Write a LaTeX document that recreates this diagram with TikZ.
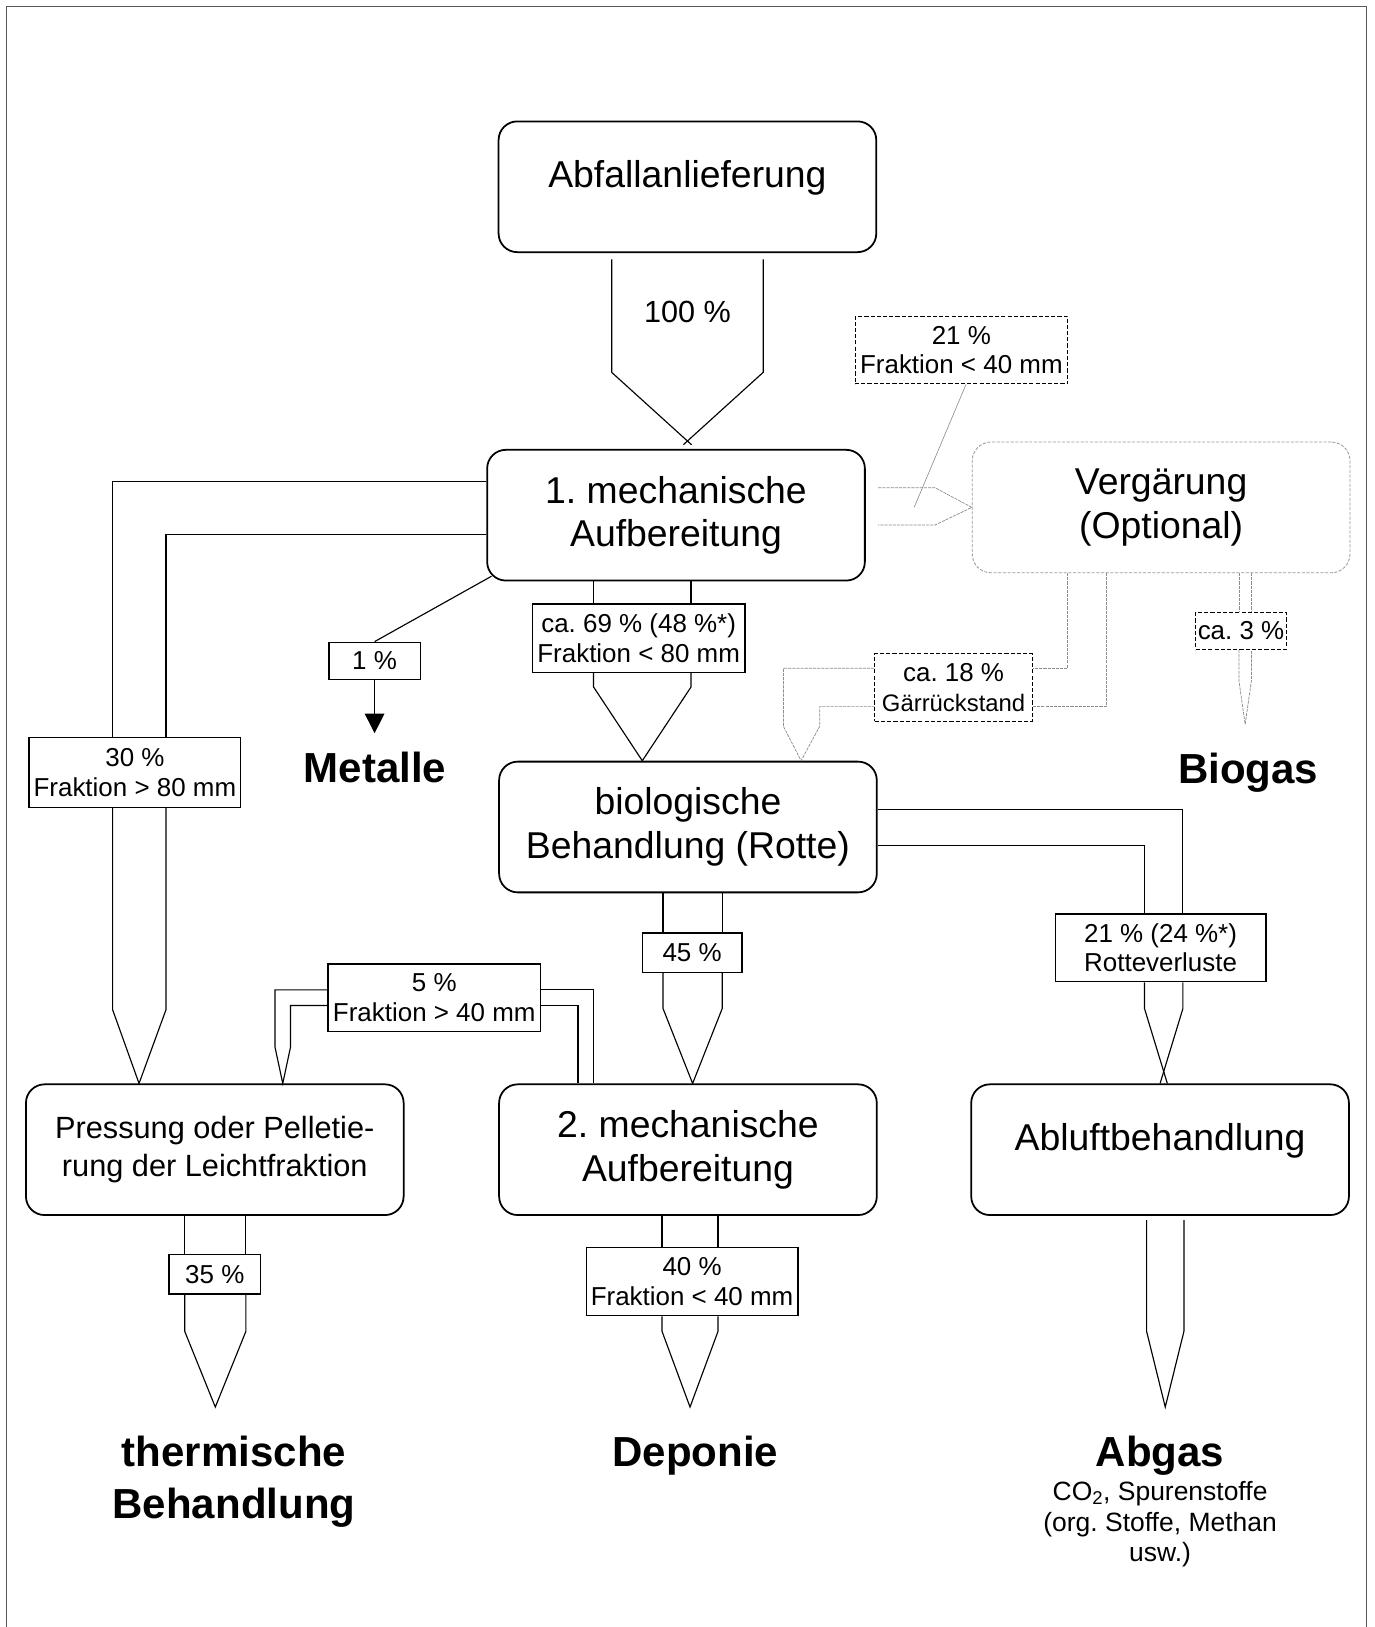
\documentclass[tikz,border=0pt]{standalone}
\usepackage{fontspec}
\setmainfont{Liberation Sans}
\usetikzlibrary{calc,arrows.meta}
\frenchspacing
\begin{document}
\begin{tikzpicture}[x=1pt,y=-1pt,
  stage/.style={draw,line width=1.7pt,rounded corners=18pt,minimum width=364pt,minimum height=126pt,align=center,inner sep=0pt,font=\fontsize{36}{42}\selectfont},
  optstage/.style={stage,draw=black!40,line width=0.8pt,dash pattern=on 3pt off 1.5pt},
  share/.style={draw,line width=1.3pt,fill=white,align=center,inner sep=0pt,font=\fontsize{25}{28.5}\selectfont},
  optshare/.style={share,line width=0.9pt,dash pattern=on 4pt off 2pt},
  flow/.style={line width=1.1pt},
  optflow/.style={draw=black!45,line width=0.7pt,dash pattern=on 3pt off 1pt},
  target/.style={align=center,font=\bfseries\fontsize{40.5}{50}\selectfont}]
\useasboundingbox (0,0) rectangle (1325,1568);
\draw[black!65,line width=1.2pt] (6.5,1568) -- (6.5,6.5) -- (1317,6.5) -- (1317,1568);

\node[stage,text depth=24pt] (abf) at (662.5,180) {Abfallanlieferung};
\node[stage] (mech1) at (651.5,496.5) {1. mechanische\\Aufbereitung};
\node[optstage] (verg) at (1119,489) {Vergärung\\(Optional)};
\node[stage] (bio) at (663,797) {biologische\\Behandlung (Rotte)};
\node[stage,font=\fontsize{29.6}{36}\selectfont] (press) at (207,1108) {Pressung oder Pelletie-\\rung der Leichtfraktion};
\node[stage] (mech2) at (663,1108) {2. mechanische\\Aufbereitung};
\node[stage,text depth=24pt] (abluft) at (1118,1108) {Abluftbehandlung};

\node[share,minimum width=205pt,minimum height=66pt] (lbl69) at (615.5,615) {ca. 69 \% (48 \%*)\\Fraktion < 80 mm};
\node[share,minimum width=204pt,minimum height=67pt] (lbl30) at (130,744.5) {30 \%\\Fraktion > 80 mm};
\node[share,minimum width=88pt,minimum height=36pt] (lbl1) at (361,637) {1 \%};
\node[optshare,minimum width=205pt,minimum height=65pt] (lbl21) at (926.5,337.5) {21 \%\\Fraktion < 40 mm};
\node[optshare,minimum width=152pt,minimum height=65pt] (lbl18) at (919,662.5) {ca. 18 \%\\{\fontsize{23}{28}\selectfont Gärrückstand}};
\node[optshare,minimum width=87pt,minimum height=36pt] (lbl3) at (1196,608) {ca. 3 \%};
\node[share,minimum width=96pt,minimum height=38pt] (lbl45) at (667,918) {45 \%};
\node[share,minimum width=203pt,minimum height=65pt] (lbl24) at (1118.5,913.5) {21 \% (24 \%*)\\Rotteverluste};
\node[share,minimum width=205pt,minimum height=65pt] (lbl5) at (418.5,961.5) {5 \%\\Fraktion > 40 mm};
\node[share,minimum width=88pt,minimum height=38pt] (lbl35) at (207,1228) {35 \%};
\node[share,minimum width=204pt,minimum height=66pt] (lbl40) at (667,1235) {40 \%\\Fraktion < 40 mm};

\node[target] (metalle) at (361.5,740) {Metalle};
\node[target] (biogas) at (1203,744.5) {Biogas};
\node[target] (thermal) at (225.5,1428) {thermische\\Behandlung};
\node[target] (deponie) at (670,1402.5) {Deponie};
\node[target] (abgas) at (1118,1402.5) {Abgas};
\node[align=center,font=\fontsize{25.5}{29.5}\selectfont] (abgasinfo) at (1118,1469) {CO\textsubscript{2}, Spurenstoffe\\(org. Stoffe, Methan\\usw.)};
\node[font=\fontsize{29.5}{34}\selectfont] (total) at (662.5,301) {100 \%};

\coordinate (tipTherm) at (207.5,1356);
\coordinate (tipDep) at (665,1356);
\coordinate (tipAbgas) at (1123,1356);
\coordinate (tipBiogas) at (1200,698);
\coordinate (tipCallout) at (881,489);

\draw[flow] ($(abf.south)+(-73,6)$) -- ++(0,109) -- ($(abf.south |- mech1.north)+(4,-4)$);
\draw[flow] ($(abf.south)+(73,6)$) -- ++(0,109) -- ($(abf.south |- mech1.north)+(-4,-4)$);

\draw[flow] (mech1.south -| 572,0) -- (lbl69.north -| 572,0);
\draw[flow] (mech1.south -| 666,0) -- (lbl69.north -| 666,0);
\draw[flow] (lbl69.south -| 572,0) -- (572,662) -- (bio.north -| 619,0) -- (666,662) -- (lbl69.south -| 666,0);

\draw[flow] (mech1.west |- 0,464) -| (lbl30.north -| 108.5,0);
\draw[flow] (mech1.west |- 0,515) -| (lbl30.north -| 160,0);
\draw[flow] (lbl30.south -| 108.5,0) -- (108.5,973) -- (press.north -| 134,0) -- (160,973) -- (lbl30.south -| 160,0);

\draw[flow] ($(mech1.south west)+(5,-5)$) -- (lbl1.north);
\draw[flow,-{Triangle[width=19pt,length=19pt]}] (lbl1.south) -- ++(0,51);

\draw[flow] (bio.south -| 639,0) -- (lbl45.north -| 639,0);
\draw[flow] (bio.south -| 696,0) -- (lbl45.north -| 696,0);
\draw[flow] (lbl45.south -| 639,0) -- (639,972) -- (mech2.north -| 667.5,0) -- (696,972) -- (lbl45.south -| 696,0);

\draw[flow] (mech2.north -| 572,0) |- (lbl5.east |- 0,954);
\draw[flow] (mech2.north -| 557,0) |- (lbl5.east |- 0,969);
\draw[flow] (lbl5.west |- 0,954) -| (265,1009) -- (press.north -| 272.5,0) -- (280,1009) |- (lbl5.west |- 0,969);

\draw[flow] (bio.east |- 0,780) -| (lbl24.north -| 1140,0);
\draw[flow] (bio.east |- 0,815) -| (lbl24.north -| 1103,0);
\draw[flow] (lbl24.south -| 1103,0) -- (1103,972) -- (abluft.north -| 1125,0);
\draw[flow] (lbl24.south -| 1140,0) -- (1140,972) -- (abluft.north -| 1118,0);

\draw[flow] (press.south -| 178,0) -- (lbl35.north -| 178,0);
\draw[flow] (press.south -| 237,0) -- (lbl35.north -| 237,0);
\draw[flow] (lbl35.south -| 178,0) -- (178,1283) -- (tipTherm) -- (237,1283) -- (lbl35.south -| 237,0);

\draw[flow] (mech2.south -| 638,0) -- (lbl40.north -| 638,0);
\draw[flow] (mech2.south -| 692,0) -- (lbl40.north -| 692,0);
\draw[flow] (lbl40.south -| 638,0) -- (638,1283) -- (tipDep) -- (692,1283) -- (lbl40.south -| 692,0);

\draw[flow] ($(abluft.south -| 1105,0)+(0,4)$) -- (1105,1283) -- (tipAbgas) -- (1141,1283) -- ($(abluft.south -| 1141,0)+(0,4)$);

\draw[optflow] ($(mech1.east |- 0,470)+(12,0)$) -- (901,470) -- (verg.west) -- (901,506) -- ($(mech1.east |- 0,506)+(12,0)$);
\draw[black!45,line width=0.6pt] (lbl21.south -| 931,0) -- (tipCallout);

\draw[optflow] (verg.south -| 1029,0) |- (lbl18.east |- 0,644);
\draw[optflow] (verg.south -| 1066,0) |- (lbl18.east |- 0,681);
\draw[optflow] (lbl18.west |- 0,644) -| (755,700) -- (bio.north -| 772,0) -- (790,700) |- (lbl18.west |- 0,681);

\draw[optflow] (verg.south -| 1194,0) -- (lbl3.north -| 1194,0);
\draw[optflow] (verg.south -| 1206,0) -- (lbl3.north -| 1206,0);
\draw[optflow] (lbl3.south -| 1194,0) -- (1194,656) -- (tipBiogas) -- (1206,656) -- (lbl3.south -| 1206,0);
\end{tikzpicture}
\end{document}
